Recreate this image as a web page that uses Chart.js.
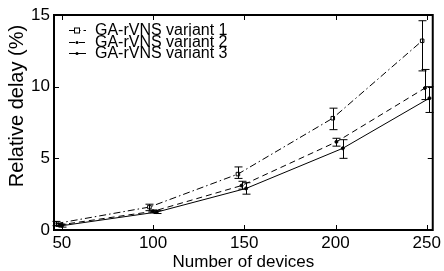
<!DOCTYPE html>
<html>
<head>
<meta charset="utf-8">
<script src="https://cdn.jsdelivr.net/npm/chart.js@4.4.0/dist/chart.umd.min.js"></script>
<style>
  html, body { margin: 0; padding: 0; background: #fff; }
</style>
</head>
<body>
<canvas id="chart" width="444" height="271"></canvas>
<script>
const seriesNames = ['GA-rVNS variant 1', 'GA-rVNS variant 2', 'GA-rVNS variant 3'];

// x positions are slightly offset per variant in the original figure
const devices1 = [47, 98, 146.5, 198.5, 247.5];
const devices2 = [48.5, 100, 148.5, 200.5, 249];
const devices3 = [50, 102, 151, 204, 251.5];

const delay1 = [0.45, 1.6, 3.9, 7.8, 13.2];
const delay2 = [0.35, 1.3, 3.1, 6.15, 9.9];
const delay3 = [0.3, 1.25, 2.9, 5.7, 9.2];

const low1 = [0.3, 1.35, 3.6, 7.0, 11.1];
const high1 = [0.6, 1.8, 4.4, 8.5, 14.6];
const low2 = [0.25, 1.2, 2.85, 5.85, 9.1];
const high2 = [0.45, 1.4, 3.4, 6.4, 11.2];
const low3 = [0.2, 1.15, 2.5, 5.0, 8.2];
const high3 = [0.4, 1.35, 3.3, 6.3, 10.0];

const xTicks = [50, 100, 150, 200, 250];
const yTicks = [0, 5, 10, 15];

const FONT = 'Liberation Sans, Arial, sans-serif';

function toPoints(xs, ys) {
    return xs.map((x, i) => ({ x: x, y: ys[i] }));
}

const dashes = [[7, 3, 1.5, 3], [6, 4], []];
const errLow = [low1, low2, low3];
const errHigh = [high1, high2, high3];
const xs = [devices1, devices2, devices3];

function drawMarker(ctx, i, x, y) {
    ctx.save();
    ctx.setLineDash([]);
    ctx.lineWidth = 1;
    ctx.strokeStyle = '#000';
    if (i === 0) {
        ctx.fillStyle = '#fff';
        ctx.fillRect(x - 2.5, y - 2.5, 5, 5);
        ctx.strokeRect(x - 2.5, y - 2.5, 5, 5);
    } else {
        ctx.fillStyle = '#000';
        ctx.beginPath();
        ctx.arc(x, y, 1.5, 0, Math.PI * 2);
        ctx.fill();
    }
    ctx.restore();
}

const framePlugin = {
    id: 'frame',
    afterDatasetsDraw(chart) {
        const ctx = chart.ctx;
        const xs_ = chart.scales.x, ys_ = chart.scales.y;
        // error bars
        ctx.save();
        ctx.strokeStyle = '#000';
        ctx.lineWidth = 1;
        ctx.setLineDash([]);
        for (let s = 0; s < 3; s++) {
            xs[s].forEach((xv, i) => {
                const px = Math.round(xs_.getPixelForValue(xv)) + 0.5;
                const top = ys_.getPixelForValue(errHigh[s][i]);
                const bot = ys_.getPixelForValue(errLow[s][i]);
                ctx.beginPath();
                ctx.moveTo(px, top); ctx.lineTo(px, bot);
                ctx.moveTo(px - 4, top); ctx.lineTo(px + 4, top);
                ctx.moveTo(px - 4, bot); ctx.lineTo(px + 4, bot);
                ctx.stroke();
            });
        }
        ctx.restore();
    },
    afterDraw(chart) {
        const ctx = chart.ctx;
        const a = chart.chartArea;
        const xs_ = chart.scales.x, ys_ = chart.scales.y;
        ctx.save();
        ctx.strokeStyle = '#000';
        ctx.lineWidth = 2;
        ctx.strokeRect(a.left, a.top, a.right - a.left, a.bottom - a.top);
        // inward ticks
        ctx.lineWidth = 1;
        ctx.beginPath();
        xTicks.forEach(v => {
            const px = Math.round(xs_.getPixelForValue(v)) + 0.5;
            ctx.moveTo(px, a.bottom); ctx.lineTo(px, a.bottom - 5);
            ctx.moveTo(px, a.top); ctx.lineTo(px, a.top + 5);
        });
        yTicks.forEach(v => {
            const py = Math.round(ys_.getPixelForValue(v)) + 0.5;
            ctx.moveTo(a.left, py); ctx.lineTo(a.left + 5, py);
            ctx.moveTo(a.right, py); ctx.lineTo(a.right - 5, py);
        });
        ctx.stroke();

        // legend
        const rows = [30, 42, 53];
        ctx.font = '16px ' + FONT;
        ctx.fillStyle = '#000';
        ctx.textBaseline = 'middle';
        ctx.textAlign = 'left';
        for (let s = 0; s < 3; s++) {
            const y = rows[s] + 0.5;
            ctx.setLineDash(dashes[s]);
            ctx.beginPath();
            ctx.moveTo(69, y); ctx.lineTo(86, y);
            ctx.stroke();
            drawMarker(ctx, s, 77, y);
            ctx.setLineDash([]);
            ctx.fillText(seriesNames[s], 95, rows[s] + 1);
        }

        // y axis title
        ctx.save();
        ctx.translate(17, 106);
        ctx.rotate(-Math.PI / 2);
        ctx.textAlign = 'center';
        ctx.font = '20px ' + FONT;
        ctx.fillText('Relative delay (%)', 0, 0);
        ctx.restore();
        ctx.restore();
    }
};

function makeSet(i, ys) {
    return {
        label: seriesNames[i],
        data: toPoints(xs[i], ys),
        borderColor: '#000',
        borderWidth: 1,
        borderDash: dashes[i],
        backgroundColor: i === 0 ? '#fff' : '#000',
        pointBorderColor: '#000',
        pointBorderWidth: 1,
        pointStyle: i === 0 ? 'rect' : 'circle',
        pointRadius: i === 0 ? 2.5 : 1.5,
        fill: false,
        tension: 0
    };
}

new Chart(document.getElementById('chart'), {
    type: 'line',
    data: {
        datasets: [makeSet(0, delay1), makeSet(1, delay2), makeSet(2, delay3)]
    },
    options: {
        responsive: false,
        animation: false,
        layout: { padding: { top: 15, right: 6, left: 0, bottom: 0 } },
        plugins: { legend: { display: false }, tooltip: { enabled: false } },
        scales: {
            x: {
                type: 'linear',
                min: 45.7,
                max: 253.3,
                afterBuildTicks: s => { s.ticks = xTicks.map(v => ({ value: v })); },
                afterFit: s => { s.height = 41; },
                grid: { display: false, drawTicks: false },
                border: { display: false },
                ticks: { color: '#000', font: { size: 17, family: FONT }, padding: 3, maxRotation: 0 },
                title: {
                    display: true,
                    text: 'Number of devices',
                    color: '#000',
                    font: { size: 17, family: FONT, lineHeight: 1 },
                    padding: 0
                }
            },
            y: {
                min: 0,
                max: 15,
                afterBuildTicks: s => { s.ticks = yTicks.map(v => ({ value: v })); },
                afterFit: s => { s.width = 54; },
                grid: { display: false, drawTicks: false },
                border: { display: false },
                ticks: { color: '#000', font: { size: 17, family: FONT }, padding: 4 }
            }
        }
    },
    plugins: [framePlugin]
});
</script>
</body>
</html>
